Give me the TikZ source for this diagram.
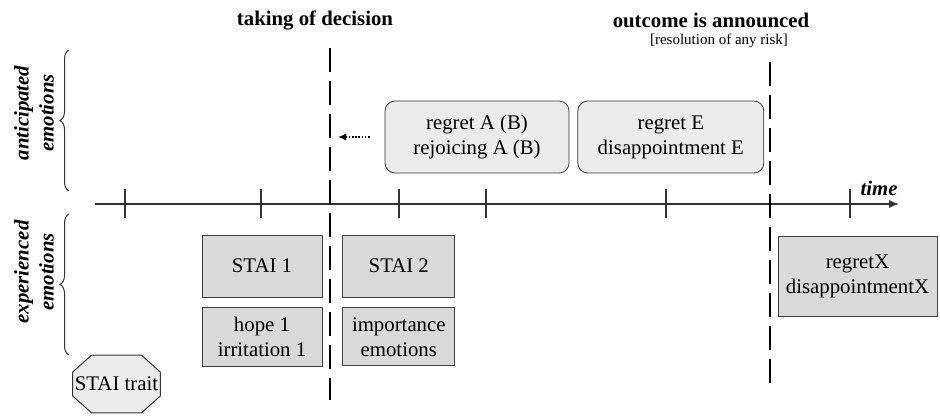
\documentclass[tikz,border=0pt]{standalone}
\usepackage{fontspec}
\setmainfont{Liberation Serif}
\usetikzlibrary{arrows.meta,positioning,calc,decorations.pathreplacing}

\begin{document}
\begin{tikzpicture}[
			x=0.5pt, y=-0.5pt,
			font=\fontsize{10.4}{12.5}\selectfont,
			box/.style={draw=black!75, fill=black!15, minimum width=60pt, minimum height=31pt, align=center, inner sep=1pt},
			anticip/.style={draw=black!80, fill=black!8, rounded corners=5pt, minimum width=92pt, minimum height=36pt, align=center},
			trait/.style={minimum width=43.5pt, minimum height=28.5pt, inner sep=1pt},
			octo/.style={draw=black!80, fill=black!8, line width=0.5pt},
			milestone/.style={line width=1.4pt, dash pattern=on 12pt off 4.5pt},
			axis/.style={draw=black!80, line width=0.6pt},
			title/.style={font=\fontsize{10.4}{12.5}\selectfont\bfseries},
			side/.style={font=\fontsize{10.4}{12.5}\selectfont\bfseries\itshape, rotate=90, align=center},
			brace/.style={decorate, decoration={brace, amplitude=4.5pt}, draw=black!80, line width=0.5pt}
			]
			\useasboundingbox (0,0) rectangle (940,419);
			
			% time axis
			\coordinate (t0) at (95,204);
			\coordinate (t1) at (899,204);
			\draw[axis, -{Latex[length=5pt,width=4pt]}] (t0) -- (t1);
			\foreach \tx in {125,261,399,486,666,850}
				\draw[axis] (\tx,189) -- (\tx,218);
			\node[font=\fontsize{10.4}{12.5}\selectfont\bfseries\itshape] (time) at (879,188) {time};
			
			% milestones
			\coordinate (decT) at (330,48);
			\coordinate (decB) at (330,400);
			\coordinate (outT) at (770,62);
			\coordinate (outB) at (770,386);
			\draw[milestone] (decT) -- (decB);
			\draw[milestone] (outT) -- (outB);
			\node[title] (dec) at (315,20) {taking of decision};
			\node[title] (out) at (711,20) {outcome is announced};
			\node[font=\fontsize{7.5}{9}\selectfont] (risk) at (719,41) {[resolution of any risk]};
			
			% braces and side labels
			\draw[brace] (69,191) -- (69,50);
			\draw[brace] (69,355) -- (69,214);
			\node[side] (ant) at (34,113) {anticipated\\emotions};
			\node[side] (exp) at (34,272) {experienced\\emotions};
			
			% anticipated emotions
			\node[anticip] (regAB) at (477,137) {regret A (B)\\rejoicing A (B)};
			\node[anticip, minimum width=93pt, right=4pt of regAB] (regE) {regret E\\disappointment E};
			\draw[line width=0.8pt, dash pattern=on 0.8pt off 0.8pt, -{Latex[length=4pt,width=3.6pt]}] ([xshift=-7.5pt]regAB.west) -- ([xshift=4pt]decT |- regAB.west);
			
			% experienced emotions
			\node[box] (stai1) at (262,266) {STAI 1};
			\node[box, minimum width=56pt, right=10pt of stai1] (stai2) {STAI 2};
			\node[box, minimum height=29.5pt, below=5pt of stai1] (hope) {hope 1\\irritation 1};
			\node[box, minimum width=56pt, minimum height=29pt, below=5pt of stai2] (imp) {importance\\emotions};
			\node[box, minimum width=79.5pt, minimum height=40pt] (regX) at (857.5,276) {regretX\\disappointmentX};
			
			% octagon round STAI trait
			\node[trait] (stait) at (116.5,384) {};
			\draw[octo] ([xshift=9.5pt]stait.north west) -- ([xshift=-9.5pt]stait.north east)
				-- ([yshift=-8.5pt]stait.north east) -- ([yshift=8.5pt]stait.south east)
				-- ([xshift=-9.5pt]stait.south east) -- ([xshift=9.5pt]stait.south west)
				-- ([yshift=8.5pt]stait.south west) -- ([yshift=-8.5pt]stait.north west) -- cycle;
			\node at (stait) {STAI trait};
		\end{tikzpicture}
\end{document}
